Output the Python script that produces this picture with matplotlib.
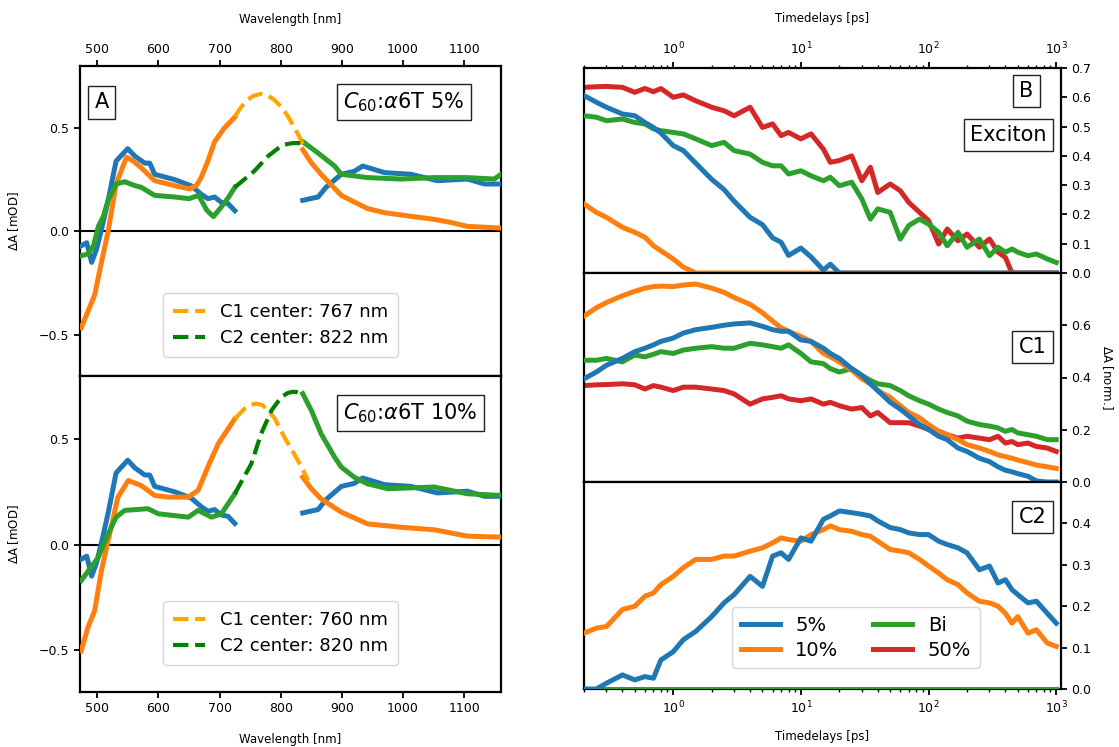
import matplotlib
matplotlib.use("Agg")
import matplotlib.pyplot as plt
import numpy as np
from matplotlib.ticker import LogLocator, NullFormatter

nan = float("nan")

# ---------------- Left panels: spectra (Wavelength [nm]) ----------------
# Exciton spectrum (blue), same in both panels, two segments
exc_wl = [474, 483, 491, 499, 507, 518, 531, 550, 562, 578, 586, 594, 627, 654, 670, 681, 692, 703, 714, 725,
          nan,
          836, 861, 874, 899, 920, 934, 970, 1013, 1056, 1105, 1133, 1160]
exc_val = [-0.07, -0.055, -0.15, -0.087, 0.008, 0.15, 0.34, 0.40, 0.363, 0.33, 0.33, 0.276, 0.25, 0.22, 0.18, 0.158, 0.166, 0.14, 0.134, 0.10,
           nan,
           0.15, 0.166, 0.213, 0.276, 0.29, 0.316, 0.284, 0.276, 0.245, 0.253, 0.229, 0.229]

# 5 % : C1 (orange) and C2 (green) spectra
c1_5_wl = [474, 485, 496, 507, 518, 531, 548, 559, 572, 594, 627, 651, 662, 670, 681, 692, 708, 725,
           nan,
           836, 850, 866, 899, 920, 942, 970, 997, 1051, 1078, 1105, 1160]
c1_5_val = [-0.466, -0.387, -0.308, -0.15, 0.0, 0.229, 0.359, 0.34, 0.308, 0.245, 0.221, 0.205, 0.221, 0.26, 0.34, 0.434, 0.50, 0.553,
            nan,
            0.395, 0.332, 0.276, 0.174, 0.142, 0.11, 0.09, 0.079, 0.058, 0.043, 0.024, 0.016]
c1_5_fit_wl = [725, 735, 745, 755, 767, 780, 790, 800, 810, 820, 830, 838]
c1_5_fit_val = [0.555, 0.60, 0.635, 0.655, 0.665, 0.655, 0.635, 0.605, 0.565, 0.515, 0.46, 0.41]

c2_5_wl = [474, 485, 494, 502, 510, 518, 531, 545, 562, 572, 594, 627, 650, 666, 679, 690, 703, 715, 725,
           nan,
           836, 861, 888, 899, 942, 997, 1051, 1105, 1149, 1160]
c2_5_val = [-0.118, -0.11, -0.071, 0.024, 0.071, 0.15, 0.229, 0.24, 0.221, 0.213, 0.174, 0.166, 0.158, 0.174, 0.103, 0.071, 0.118, 0.166, 0.213,
            nan,
            0.434, 0.379, 0.316, 0.276, 0.26, 0.253, 0.26, 0.26, 0.253, 0.276]
c2_5_fit_wl = [725, 740, 757, 779, 795, 806, 815, 822, 830, 838]
c2_5_fit_val = [0.213, 0.25, 0.292, 0.363, 0.40, 0.419, 0.425, 0.427, 0.427, 0.425]

# 10 %
c1_10_wl = [474, 485, 496, 507, 518, 534, 551, 572, 594, 616, 649, 665, 681, 698, 725,
            nan,
            836, 850, 866, 899, 942, 997, 1051, 1105, 1160]
c1_10_val = [-0.504, -0.393, -0.314, -0.124, 0.019, 0.225, 0.304, 0.28, 0.233, 0.225, 0.225, 0.257, 0.368, 0.479, 0.597,
             nan,
             0.32, 0.265, 0.217, 0.154, 0.098, 0.082, 0.07, 0.04, 0.035]
c1_10_fit_wl = [725, 741, 750, 760, 770, 779, 790, 806, 820, 834, 845]
c1_10_fit_val = [0.597, 0.645, 0.662, 0.669, 0.662, 0.637, 0.60, 0.51, 0.44, 0.368, 0.304]

c2_10_wl = [474, 502, 518, 531, 545, 583, 600, 649, 665, 687, 703, 725,
            nan,
            836, 850, 866, 888, 899, 920, 942, 975, 1051, 1105, 1160]
c2_10_val = [-0.171, -0.06, 0.05, 0.13, 0.162, 0.17, 0.146, 0.13, 0.162, 0.13, 0.146, 0.241,
             nan,
             0.716, 0.637, 0.526, 0.415, 0.368, 0.32, 0.288, 0.265, 0.273, 0.241, 0.233]
c2_10_fit_wl = [725, 738, 752, 768, 785, 801, 812, 820, 828, 836]
c2_10_fit_val = [0.241, 0.31, 0.383, 0.526, 0.637, 0.70, 0.72, 0.725, 0.723, 0.716]

c1_5_label = "C1 center: 767 nm"
c2_5_label = "C2 center: 822 nm"
c1_10_label = "C1 center: 760 nm"
c2_10_label = "C2 center: 820 nm"

# ---------------- Right panels: kinetics (Timedelays [ps]) ----------------
t = [0.2, 0.25, 0.3, 0.4, 0.5, 0.6, 0.7, 0.8,
     1.0, 1.2, 1.5, 2, 2.5, 3, 4, 5, 6, 7, 8,
     10, 12, 15, 17, 20, 25, 30, 35, 40, 50, 60, 70, 85,
     100, 120, 140, 170, 200, 250, 300, 350, 400, 450, 500, 600, 700, 850,
     1000]

exc_5 = [0.606, 0.583, 0.566, 0.543, 0.537, 0.514, 0.497, 0.478,
         0.435, 0.418, 0.375, 0.32, 0.285, 0.245, 0.19, 0.165, 0.12, 0.105, 0.06,
         0.085, 0.055, 0.01, 0.03, 0.0, 0.0, 0.0, 0.0, 0.0, 0.0, 0.0, 0.0, 0.0,
         0.0, 0.0, 0.0, 0.0, 0.0, 0.0, 0.0, 0.0, 0.0, 0.0, 0.0, 0.0, 0.0, 0.0,
         0.0]
exc_10 = [0.236, 0.207, 0.19, 0.156, 0.139, 0.122, 0.093, 0.076,
          0.048, 0.02, 0.0, 0.0, 0.0, 0.0, 0.0, 0.0, 0.0, 0.0, 0.0,
          0.0, 0.0, 0.0, 0.0, 0.0, 0.0, 0.0, 0.0, 0.0, 0.0, 0.0, 0.0, 0.0,
          0.0, 0.0, 0.0, 0.0, 0.0, 0.0, 0.0, 0.0, 0.0, 0.0, 0.0, 0.0, 0.0, 0.0,
          0.0]
exc_bi = [0.537, 0.532, 0.52, 0.526, 0.514, 0.509, 0.492, 0.486,
          0.48, 0.475, 0.458, 0.435, 0.446, 0.418, 0.406, 0.378, 0.366, 0.366, 0.338,
          0.349, 0.332, 0.315, 0.327, 0.298, 0.31, 0.253, 0.184, 0.219, 0.207, 0.116, 0.162, 0.184,
          0.167, 0.139, 0.093, 0.139, 0.088, 0.116, 0.059, 0.088, 0.071, 0.082, 0.071, 0.059, 0.065, 0.048,
          0.036]
exc_50 = [0.634, 0.636, 0.637, 0.634, 0.617, 0.63, 0.619, 0.63,
          0.60, 0.608, 0.588, 0.566, 0.554, 0.537, 0.566, 0.497, 0.509, 0.469, 0.48,
          0.458, 0.475, 0.423, 0.378, 0.384, 0.40, 0.315, 0.361, 0.275, 0.304, 0.281, 0.241, 0.207,
          0.179, 0.099, 0.15, 0.11, 0.133, 0.088, 0.116, 0.071, 0.053, 0.0, 0.0, 0.0, 0.0, 0.0,
          0.0]

c1_5 = [0.395, 0.421, 0.447, 0.473, 0.499, 0.512, 0.525, 0.538,
        0.551, 0.57, 0.583, 0.592, 0.60, 0.605, 0.609, 0.596, 0.583, 0.577, 0.577,
        0.544, 0.538, 0.512, 0.492, 0.473, 0.434, 0.408, 0.376, 0.35, 0.305, 0.279, 0.253, 0.22,
        0.201, 0.175, 0.162, 0.13, 0.117, 0.091, 0.078, 0.058, 0.045, 0.039, 0.032, 0.022, 0.004, 0.0,
        0.0]
c1_10 = [0.635, 0.667, 0.687, 0.713, 0.73, 0.742, 0.748, 0.75,
         0.748, 0.754, 0.758, 0.742, 0.726, 0.706, 0.68, 0.648, 0.616, 0.59, 0.577,
         0.557, 0.538, 0.492, 0.479, 0.46, 0.428, 0.395, 0.376, 0.35, 0.324, 0.292, 0.266, 0.246,
         0.22, 0.194, 0.181, 0.162, 0.143, 0.13, 0.117, 0.104, 0.097, 0.091, 0.084, 0.074, 0.065, 0.058,
         0.052]
c1_bi = [0.466, 0.466, 0.473, 0.46, 0.486, 0.479, 0.489, 0.499,
         0.492, 0.505, 0.512, 0.518, 0.512, 0.512, 0.531, 0.525, 0.518, 0.512, 0.525,
         0.492, 0.46, 0.453, 0.434, 0.421, 0.434, 0.408, 0.389, 0.376, 0.369, 0.35, 0.33, 0.311,
         0.298, 0.279, 0.266, 0.253, 0.233, 0.22, 0.214, 0.207, 0.194, 0.201, 0.188, 0.181, 0.175, 0.162,
         0.162]
c1_50 = [0.369, 0.372, 0.373, 0.376, 0.372, 0.356, 0.369, 0.363,
         0.35, 0.363, 0.363, 0.356, 0.35, 0.337, 0.298, 0.318, 0.324, 0.33, 0.318,
         0.311, 0.318, 0.298, 0.305, 0.292, 0.279, 0.285, 0.253, 0.266, 0.227, 0.227, 0.227, 0.214,
         0.201, 0.194, 0.181, 0.168, 0.175, 0.168, 0.162, 0.175, 0.149, 0.155, 0.143, 0.149, 0.136, 0.13,
         0.117]

c2_5 = [0.0, 0.0, 0.014, 0.034, 0.022, 0.03, 0.026, 0.07,
        0.09, 0.119, 0.139, 0.175, 0.208, 0.228, 0.272, 0.248, 0.321, 0.329, 0.313,
        0.365, 0.357, 0.41, 0.418, 0.43, 0.426, 0.422, 0.418, 0.406, 0.39, 0.385, 0.377, 0.373,
        0.373, 0.357, 0.349, 0.341, 0.329, 0.288, 0.297, 0.256, 0.264, 0.24, 0.228, 0.208, 0.212, 0.183,
        0.159]
c2_10 = [0.135, 0.147, 0.151, 0.192, 0.20, 0.224, 0.232, 0.252,
         0.272, 0.293, 0.313, 0.313, 0.321, 0.321, 0.333, 0.341, 0.353, 0.365, 0.361,
         0.357, 0.373, 0.385, 0.394, 0.385, 0.381, 0.373, 0.369, 0.357, 0.337, 0.333, 0.329, 0.313,
         0.297, 0.28, 0.264, 0.252, 0.232, 0.212, 0.208, 0.20, 0.183, 0.159, 0.175, 0.135, 0.143, 0.111,
         0.103]
c2_bi = [0.0] * len(t)
c2_50 = [0.0] * len(t)

series_labels = ["5%", "10%", "Bi", "50%"]
series_colors = ["#1f77b4", "#ff7f0e", "#2ca02c", "#d62728"]
series_z = [5, 4, 3, 2]

exc_yticks = [0.0, 0.1, 0.2, 0.3, 0.4, 0.5, 0.6, 0.7]
c1_yticks = [0.0, 0.2, 0.4, 0.6]
c2_yticks = [0.0, 0.1, 0.2, 0.3, 0.4]

# ---------------- Figure ----------------
W, H = 1119, 747
fig = plt.figure(figsize=(W / 100, H / 100), dpi=100)
plt.rcParams["font.family"] = ["DejaVu Sans"]


def add_ax(x0, y0, x1, y1):
    return fig.add_axes([x0 / W, 1 - y1 / H, (x1 - x0) / W, (y1 - y0) / H])


LW = 3.6
TICK_FS = 9
LABEL_FS = 8.5
BOX_FS = 15
SPINE_LW = 1.6
box_kw = dict(boxstyle="square,pad=0.3", fc="white", ec="#222222", lw=1.0)


def style_spines(ax):
    for s in ax.spines.values():
        s.set_linewidth(SPINE_LW)
    ax.tick_params(which="major", length=4, width=1.3, labelsize=TICK_FS, colors="k")
    ax.tick_params(which="minor", length=2, width=1.0)


axA1 = add_ax(80, 66, 501, 376)
axA2 = add_ax(80, 376, 501, 692)

panels = [
    (axA1, c1_5_wl, c1_5_val, c1_5_fit_wl, c1_5_fit_val, c2_5_wl, c2_5_val, c2_5_fit_wl, c2_5_fit_val,
     c1_5_label, c2_5_label, r"$C_{60}$:$\alpha$6T 5%", 0.061),
    (axA2, c1_10_wl, c1_10_val, c1_10_fit_wl, c1_10_fit_val, c2_10_wl, c2_10_val, c2_10_fit_wl, c2_10_fit_val,
     c1_10_label, c2_10_label, r"$C_{60}$:$\alpha$6T 10%", 0.085),
]
for (ax, w1, v1, fw1, fv1, w2, v2, fw2, fv2, l1, l2, title, legy) in panels:
    ax.plot(exc_wl, exc_val, color="#1f77b4", lw=LW, zorder=3)
    ax.plot(w1, v1, color="#ff7f0e", lw=LW, zorder=3)
    ax.plot(w2, v2, color="#2ca02c", lw=LW, zorder=3)
    hc1, = ax.plot(fw1, fv1, color="orange", lw=3, ls="--", zorder=4, label=l1)
    hc2, = ax.plot(fw2, fv2, color="green", lw=3, ls="--", zorder=4, label=l2)
    ax.axhline(0, color="k", lw=1.5, zorder=2)
    ax.set_xlim(472, 1160)
    ax.set_ylim(-0.7, 0.8)
    ax.set_yticks([-0.5, 0.0, 0.5])
    ax.set_xticks([500, 600, 700, 800, 900, 1000, 1100])
    ax.set_ylabel(r"$\Delta$A [mOD]", fontsize=LABEL_FS, labelpad=13)
    style_spines(ax)
    ax.legend(handles=[hc1, hc2], loc="lower left", bbox_to_anchor=(0.197, legy), fontsize=13,
              handlelength=1.8, borderpad=0.55, labelspacing=0.45, borderaxespad=0)
    ax.text(0.625, 0.883, title, transform=ax.transAxes, fontsize=BOX_FS, ha="left", va="center",
            bbox=box_kw)

axA1.text(0.035, 0.883, "A", transform=axA1.transAxes, fontsize=BOX_FS, ha="left", va="center", bbox=box_kw)
axA1.xaxis.tick_top()
axA1.xaxis.set_label_position("top")
axA1.set_xlabel("Wavelength [nm]", fontsize=LABEL_FS, labelpad=14)
axA2.set_xlabel("Wavelength [nm]", fontsize=LABEL_FS, labelpad=13)

# Right column
axE = add_ax(584, 68, 1061, 273)
axC1 = add_ax(584, 273, 1061, 482)
axC2 = add_ax(584, 482, 1061, 689)

right_data = [
    (axE, [exc_5, exc_10, exc_bi, exc_50], 0.7, exc_yticks),
    (axC1, [c1_5, c1_10, c1_bi, c1_50], 0.80, c1_yticks),
    (axC2, [c2_5, c2_10, c2_bi, c2_50], 0.5, c2_yticks),
]
handles = []
for ax, sets, ytop, yt in right_data:
    hs = []
    for vals, lab, col, z in zip(sets, series_labels, series_colors, series_z):
        h, = ax.plot(t, vals, color=col, lw=LW, label=lab, zorder=z)
        hs.append(h)
    handles = hs
    ax.set_xscale("log")
    ax.set_xlim(0.2, 1090)
    ax.set_ylim(0, ytop)
    ax.set_yticks(yt)
    ax.yaxis.tick_right()
    ax.yaxis.set_label_position("right")
    ax.xaxis.set_major_locator(LogLocator(base=10))
    ax.xaxis.set_minor_locator(LogLocator(base=10, subs=np.arange(2, 10)))
    ax.xaxis.set_minor_formatter(NullFormatter())
    style_spines(ax)

axE.xaxis.tick_top()
axE.xaxis.set_label_position("top")
axE.set_xlabel("Timedelays [ps]", fontsize=LABEL_FS, labelpad=14)
axC1.tick_params(axis="x", which="both", bottom=False, top=False, labelbottom=False, labeltop=False)
axC2.set_xlabel("Timedelays [ps]", fontsize=LABEL_FS, labelpad=10)
axC1.set_ylabel(r"$\Delta$A [norm.]", fontsize=LABEL_FS, rotation=270, labelpad=17)

axE.text(0.927, 0.887, "B", transform=axE.transAxes, fontsize=BOX_FS, ha="center", va="center", bbox=box_kw)
axE.text(0.89, 0.672, "Exciton", transform=axE.transAxes, fontsize=BOX_FS, ha="center", va="center", bbox=box_kw)
axC1.text(0.94, 0.645, "C1", transform=axC1.transAxes, fontsize=BOX_FS, ha="center", va="center", bbox=box_kw)
axC2.text(0.94, 0.83, "C2", transform=axC2.transAxes, fontsize=BOX_FS, ha="center", va="center", bbox=box_kw)

axC2.legend(handles=handles, ncol=2, loc="lower left", bbox_to_anchor=(0.31, 0.10), fontsize=14,
            handlelength=2.0, borderpad=0.45, labelspacing=0.3, columnspacing=1.8, borderaxespad=0)

fig.savefig("out.png", dpi=100)
